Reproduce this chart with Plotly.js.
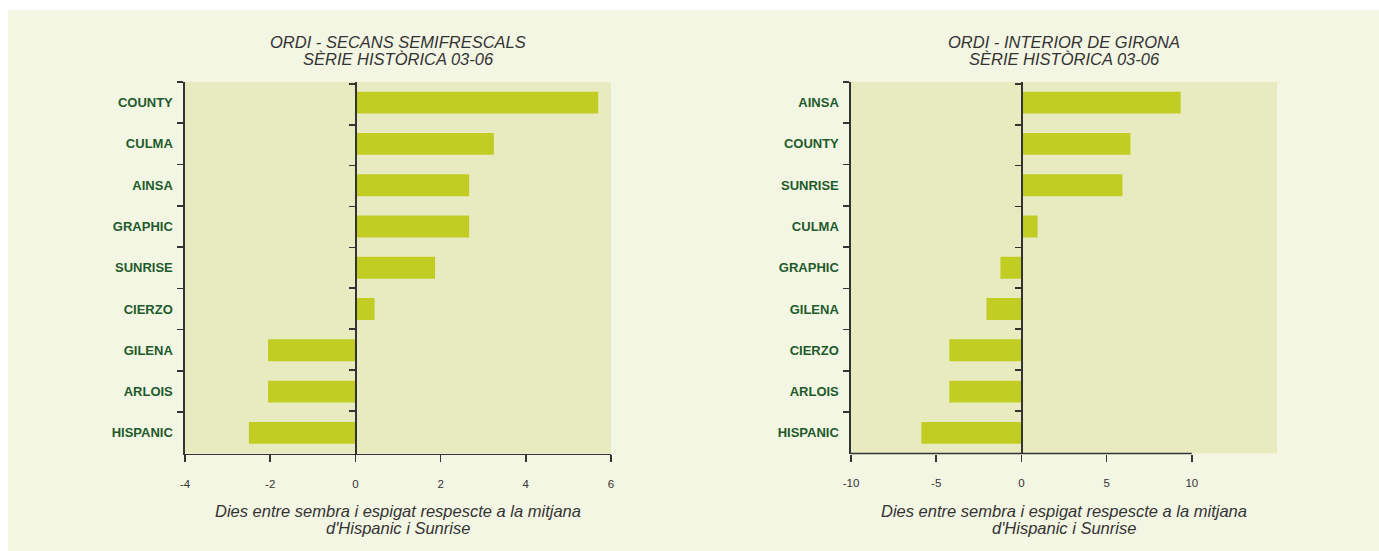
<!DOCTYPE html>
<html>
<head>
<meta charset="utf-8">
<script src="https://cdn.plot.ly/plotly-3.0.1.min.js"></script>
<style>html,body{margin:0;padding:0;background:#fff;}#chart{width:1379px;height:551px;}</style>
</head>
<body>
<div id="chart"></div>
<script>
// Left chart: ORDI - SECANS SEMIFRESCALS
const leftCategories = ["COUNTY","CULMA","AINSA","GRAPHIC","SUNRISE","CIERZO","GILENA","ARLOIS","HISPANIC"];
const leftValues = [5.7, 3.25, 2.67, 2.67, 1.87, 0.45, -2.05, -2.05, -2.5];
const leftTitleLines = ["ORDI - SECANS SEMIFRESCALS", "SÈRIE HISTÒRICA 03-06"];
const leftTicks = [-4, -2, 0, 2, 4, 6];

// Right chart: ORDI - INTERIOR DE GIRONA
const rightCategories = ["AINSA","COUNTY","SUNRISE","CULMA","GRAPHIC","GILENA","CIERZO","ARLOIS","HISPANIC"];
const rightValues = [9.35, 6.4, 5.93, 0.95, -1.23, -2.05, -4.23, -4.23, -5.87];
const rightTitleLines = ["ORDI - INTERIOR DE GIRONA", "SÈRIE HISTÒRICA 03-06"];
const rightTicks = [-10, -5, 0, 5, 10];

const axisTitleLines = ["Dies entre sembra i espigat respescte a la mitjana", "d'Hispanic i Sunrise"];

const barColor = "#C2CD23";
const plotBg = "#E8EBC0";
const panelBg = "#F3F6E3";
const labelColor = "#1E5A2C";
const axisColor = "#333333";
const font = "Liberation Sans, Arial, sans-serif";

const yTop = 1 - 82/551, yBot = 1 - 453.5/551;
const lDom = [185/1379, 611/1379];
const rDom = [851/1379, 1277/1379];

function barTrace(cats, vals, xa, ya) {
  return {type: "bar", orientation: "h", x: vals, y: cats, xaxis: xa, yaxis: ya,
    marker: {color: barColor, line: {width: 0}}, hoverinfo: "x+y", showlegend: false};
}
function ghostTrace(cats, vals, xa, ya) {
  return {type: "scatter", mode: "markers", x: vals, y: cats, xaxis: xa, yaxis: ya,
    marker: {opacity: 0}, hoverinfo: "skip", showlegend: false};
}

const data = [
  barTrace(leftCategories, leftValues, "x", "y"),
  ghostTrace(leftCategories, leftValues, "x", "y3"),
  barTrace(rightCategories, rightValues, "x2", "y2"),
  ghostTrace(rightCategories, rightValues, "x2", "y4")
];

function yAxis(cats, showLabels) {
  return {
    type: "category", categoryorder: "array", categoryarray: cats, autorange: "reversed",
    domain: [yBot, yTop], showline: true, linecolor: axisColor, linewidth: 1.6,
    ticks: "outside", tickson: "boundaries", ticklen: 6, tickcolor: axisColor, tickwidth: 1.6,
    showgrid: false, zeroline: false, fixedrange: true,
    showticklabels: showLabels, ticklabelstandoff: 8,
    tickfont: {family: font, size: 13, color: labelColor, weight: "bold"}
  };
}
function xAxis(range, ticks, dom, showline) {
  return {
    range: range, domain: dom, tickmode: "array", tickvals: ticks, ticktext: ticks.map(String),
    showline: showline, linecolor: axisColor, linewidth: 1.6,
    ticks: "outside", ticklen: 7, tickcolor: axisColor, tickwidth: 1.6,
    showgrid: false, zeroline: false, fixedrange: true,
    ticklabelstandoff: 12,
    tickfont: {family: font, size: 11.5, color: axisColor}
  };
}

const y3 = yAxis(leftCategories, false);
y3.overlaying = "y"; y3.anchor = "free"; y3.position = 355/1379;
const y4 = yAxis(rightCategories, false);
y4.overlaying = "y2"; y4.anchor = "free"; y4.position = 1021/1379;

function textLines(lines, xc, yPixels, size) {
  return lines.map((t, i) => ({
    text: t, xref: "paper", yref: "paper", x: xc, y: 1 - yPixels[i]/551,
    xanchor: "center", yanchor: "middle", showarrow: false,
    font: {family: font, size: size, color: axisColor, style: "italic"}
  }));
}

const lc = (lDom[0]+lDom[1])/2, rc = (rDom[0]+rDom[1])/2;

const layout = {
  width: 1379, height: 551,
  margin: {l: 0, r: 0, t: 0, b: 0},
  paper_bgcolor: panelBg, plot_bgcolor: plotBg,
  bargap: 0.47,
  font: {family: font},
  xaxis: Object.assign(xAxis([-4, 6], leftTicks, lDom, true), {anchor: "y"}),
  yaxis: Object.assign(yAxis(leftCategories, true), {anchor: "x"}),
  xaxis2: Object.assign(xAxis([-10, 15], rightTicks, rDom, false), {anchor: "y2"}),
  yaxis2: Object.assign(yAxis(rightCategories, true), {anchor: "x2"}),
  yaxis3: y3,
  yaxis4: y4,
  annotations: [].concat(
    textLines(leftTitleLines, lc, [42, 59], 16.5),
    textLines(rightTitleLines, rc, [42, 59], 16.5),
    textLines(axisTitleLines, lc, [511, 528], 16.5),
    textLines(axisTitleLines, rc, [511, 528], 16.5)
  ),
  shapes: [
    {type: "line", xref: "x2", yref: "y2 domain", x0: rightTicks[0], x1: rightTicks[rightTicks.length-1], y0: 0, y1: 0,
     line: {color: axisColor, width: 1.6}},
    {type: "rect", xref: "paper", yref: "paper", x0: 0, x1: 1, y0: 1 - 10/551, y1: 1,
     fillcolor: "#ffffff", line: {width: 0}, layer: "above"},
    {type: "rect", xref: "paper", yref: "paper", x0: 0, x1: 8/1379, y0: 0, y1: 1,
     fillcolor: "#ffffff", line: {width: 0}, layer: "above"}
  ]
};

Plotly.newPlot("chart", data, layout, {displayModeBar: false, staticPlot: true});
</script>
</body>
</html>
